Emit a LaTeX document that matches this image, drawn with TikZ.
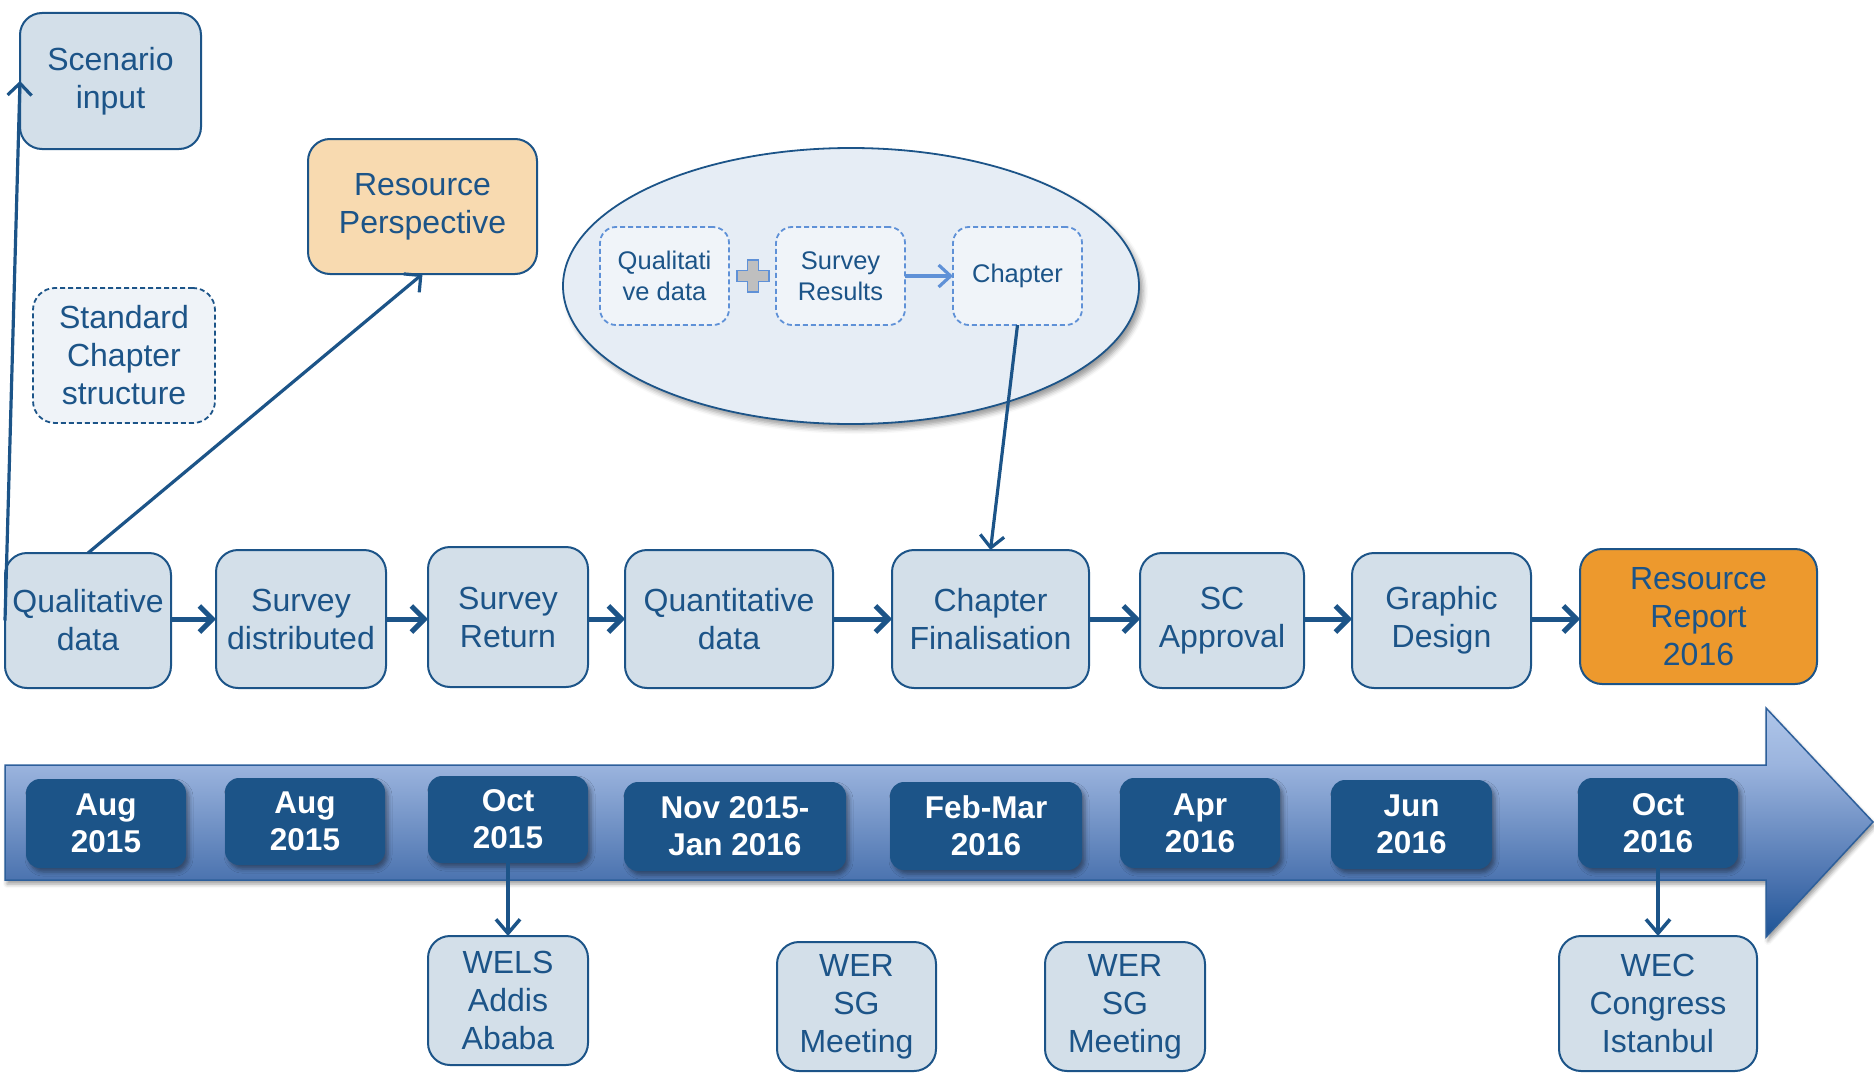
\documentclass[tikz,border=0pt]{standalone}
\usepackage{fontspec}
\setmainfont{Liberation Sans}
\usetikzlibrary{arrows.meta,shapes.geometric,shadows.blur}
\definecolor{dblue}{RGB}{28,84,136}
\definecolor{boxfill}{RGB}{211,223,233}
\definecolor{stdfill}{RGB}{239,243,248}
\definecolor{ellfill}{RGB}{230,237,245}
\definecolor{innerb}{RGB}{95,145,215}
\definecolor{innerfill}{RGB}{240,244,249}
\definecolor{rpfill}{RGB}{248,218,176}
\definecolor{rrfill}{RGB}{237,153,45}
\definecolor{plusgray}{RGB}{191,191,191}
\definecolor{tlcA}{RGB}{30,84,150}
\definecolor{tlcB}{RGB}{75,115,175}
\definecolor{tlcC}{RGB}{155,180,222}
\definecolor{tlcD}{RGB}{175,198,233}
\definecolor{tlborder}{RGB}{45,95,155}
\pgfdeclareverticalshading{timeline}{100bp}{color(0bp)=(tlcA); color(25bp)=(tlcA); color(37.4bp)=(tlcB); color(62.6bp)=(tlcC); color(75bp)=(tlcD); color(100bp)=(tlcD)}
\begin{document}
\begin{tikzpicture}[x=1pt,y=-1pt,
  every node/.style={inner sep=0pt, outer sep=0pt},
  box/.style={draw=dblue, line width=2pt, fill=boxfill, rounded corners=22pt, align=center, text=dblue, font=\fontsize{32}{38}\selectfont},
  stdbox/.style={box, fill=stdfill, dash pattern=on 5pt off 3pt, line width=1.8pt},
  inbox/.style={draw=innerb, fill=innerfill, dash pattern=on 5pt off 3pt, line width=1.8pt, rounded corners=16pt, align=center, text=dblue, font=\fontsize{25.5}{31}\selectfont, minimum width=129pt, minimum height=98pt},
  datebox/.style={fill=dblue, rounded corners=14pt, align=center, text=white, font=\fontsize{31.5}{37}\selectfont\bfseries, blur shadow={shadow xshift=3pt, shadow yshift=-4pt, shadow blur radius=4pt}},
  flowarrow/.style={draw=dblue, line width=5pt, -{Straight Barb[length=13pt,width=26pt]}},
  thinarrow/.style={draw=dblue, line width=3.2pt, -{Straight Barb[length=12pt,width=24pt]}},
  downarrow/.style={draw=dblue, line width=3.5pt, -{Straight Barb[length=14pt,width=24pt]}},
  inarrow/.style={draw=innerb, line width=3.2pt, -{Straight Barb[length=12pt,width=22pt]}}
]
\useasboundingbox (0,0) rectangle (1874,1073);

% timeline arrow
\shade[shading=timeline, draw=tlborder, line width=1.5pt, line join=miter,
  blur shadow={shadow xshift=2pt, shadow yshift=-4pt, shadow blur radius=4pt}]
  (5,765) -- (1766,765) -- (1766,708) -- (1873,822) -- (1766,937) -- (1766,880) -- (5,880) -- cycle;

% top-left boxes
\node[box, minimum width=181pt, minimum height=136pt] (scen) at (110.5,81) {Scenario\\input};
\node[box, fill=rpfill, minimum width=229pt, minimum height=135pt] (rp) at (422.5,206.5) {Resource\\Perspective};
\node[stdbox, minimum width=182pt, minimum height=135pt] (std) at (124,355.5) {Standard\\Chapter\\structure};

% ellipse
\node[ellipse, draw=dblue, fill=ellfill, line width=1.8pt, minimum width=576pt, minimum height=276pt,
  blur shadow={shadow xshift=4pt, shadow yshift=-5pt, shadow blur radius=5pt}] (ell) at (851,286) {};
\node[inbox] (in1) at (664.5,276) {Qualitati\\ve data};
\node[inbox] (in2) at (840.5,276) {Survey\\Results};
\node[inbox] (in3) at (1017.5,276) {Chapter};
\draw[fill=plusgray, draw=innerb, line width=1.2pt, shift={(753,276)}]
  (-5.5,-16) -- (5.5,-16) -- (5.5,-5.5) -- (16,-5.5) -- (16,5.5) -- (5.5,5.5) -- (5.5,16)
  -- (-5.5,16) -- (-5.5,5.5) -- (-16,5.5) -- (-16,-5.5) -- (-5.5,-5.5) -- cycle;
\draw[inarrow] (in2.east) -- (in3.west);

% process row
\node[box, minimum width=166pt, minimum height=135pt] (qd) at (88,620.5) {Qualitative\\data};
\node[box, minimum width=170pt, minimum height=138pt] (sd) at (301,619) {Survey\\distributed};
\node[box, minimum width=160pt, minimum height=140pt] (sr) at (508,617) {Survey\\Return};
\node[box, minimum width=208pt, minimum height=138pt] (qn) at (729,619) {Quantitative\\data};
\node[box, minimum width=197pt, minimum height=138pt] (cf) at (990.5,619) {Chapter\\Finalisation};
\node[box, minimum width=164pt, minimum height=135pt] (sc) at (1222,620.5) {SC\\Approval};
\node[box, minimum width=179pt, minimum height=135pt] (gd) at (1441.5,620.5) {Graphic\\Design};
\node[box, fill=rrfill, minimum width=237pt, minimum height=135pt] (rr) at (1698.5,616.5) {Resource\\Report\\2016};

\draw[flowarrow] (qd.east |- 0,619) -- (sd.west |- 0,619);
\draw[flowarrow] (sd.east |- 0,619) -- (sr.west |- 0,619);
\draw[flowarrow] (sr.east |- 0,619) -- (qn.west |- 0,619);
\draw[flowarrow] (qn.east |- 0,619) -- (cf.west |- 0,619);
\draw[flowarrow] (cf.east |- 0,619) -- (sc.west |- 0,619);
\draw[flowarrow] (sc.east |- 0,619) -- (gd.west |- 0,619);
\draw[flowarrow] (gd.east |- 0,619) -- (rr.west |- 0,619);

% connectors upward
\draw[thinarrow] (qd.west) -- (scen.west);
\draw[thinarrow] (qd.north) -- (rp.south);
\draw[thinarrow] (in3.south) -- (cf.north);

% date boxes
\node[datebox, minimum width=160pt, minimum height=89pt] (d1) at (106,823.5) {Aug\\2015};
\node[datebox, minimum width=160pt, minimum height=87pt] (d2) at (305,821.5) {Aug\\2015};
\node[datebox, minimum width=160pt, minimum height=87pt] (d3) at (508,819.5) {Oct\\2015};
\node[datebox, minimum width=222pt, minimum height=89pt] (d4) at (735,826.5) {Nov 2015-\\Jan 2016};
\node[datebox, minimum width=192pt, minimum height=88pt] (d5) at (986,826) {Feb-Mar\\2016};
\node[datebox, minimum width=160pt, minimum height=90pt] (d6) at (1200,823) {Apr\\2016};
\node[datebox, minimum width=161pt, minimum height=89pt] (d7) at (1411.5,824.5) {Jun\\2016};
\node[datebox, minimum width=160pt, minimum height=90pt] (d8) at (1658,823) {Oct\\2016};

% bottom boxes
\node[box, minimum width=160pt, minimum height=129pt] (b1) at (508,1000.5) {WELS\\Addis\\Ababa};
\node[box, minimum width=159pt, minimum height=129pt] (b2) at (856.5,1006.5) {WER\\SG\\Meeting};
\node[box, minimum width=160pt, minimum height=129pt] (b3) at (1125,1006.5) {WER\\SG\\Meeting};
\node[box, minimum width=198pt, minimum height=135pt] (b4) at (1658,1003.5) {WEC\\Congress\\Istanbul};

\draw[downarrow] (d3.south) -- (b1.north);
\draw[downarrow] (d8.south) -- (b4.north);
\end{tikzpicture}
\end{document}
